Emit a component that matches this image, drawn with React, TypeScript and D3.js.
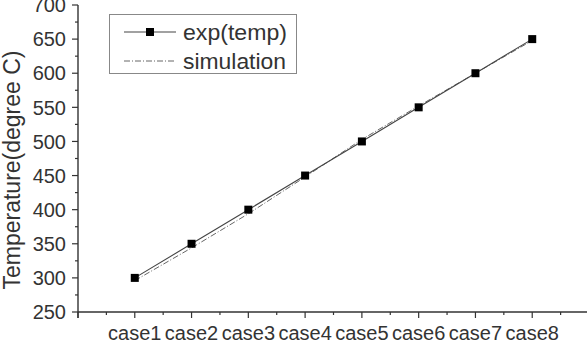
import React from 'react';
import * as d3 from 'd3';

const categories = ['case1', 'case2', 'case3', 'case4', 'case5', 'case6', 'case7', 'case8'];
const expValues = [300, 350, 400, 450, 500, 550, 600, 650];
const simValues = [296, 344, 394, 448, 503, 552, 600, 648];
const yTicks = [250, 300, 350, 400, 450, 500, 550, 600, 650, 700];
const seriesNames = ['exp(temp)', 'simulation'];

const W = 587;
const H = 345;
const FONT = '"Liberation Sans", Arial, Helvetica, sans-serif';
const TXT = '#333';
const AX = '#333';

export default function App() {
  const x = d3.scaleLinear().domain([0, 9]).range([78, 589]);
  const y = d3.scaleLinear().domain([250, 700]).range([312, 5]);
  const xi = (i: number) => x(i + 1);

  const lineExp = d3
    .line<number>()
    .x((_, i) => xi(i))
    .y((d) => y(d));
  const lineSim = d3
    .line<number>()
    .x((_, i) => xi(i))
    .y((d) => y(d));

  const yMinor = d3.range(250, 701, 25).filter((v) => v % 50 !== 0);
  const xMajor = d3.range(0, 10, 1);
  const xMinor = d3.range(0.5, 9, 1);

  const x0 = x(0);
  const yBase = y(250);
  const ms = 8;

  return (
    <svg
      width={W}
      height={H}
      style={{ position: 'absolute', left: 0, top: 0, background: '#fff' }}
      fontFamily={FONT}
    >
      <rect x={0} y={0} width={W} height={H} fill="#fff" />
      {/* Y axis */}
      <line x1={x0} x2={x0} y1={y(700)} y2={yBase + 6} stroke={AX} strokeWidth={1.4} />
      {yTicks.map((t) => (
        <g key={'yt' + t}>
          <line x1={x0 - 6} x2={x0} y1={y(t)} y2={y(t)} stroke={AX} strokeWidth={1.2} />
          <text x={66} y={y(t)} dy="0.36em" textAnchor="end" fontSize={20} fill={TXT}>
            {t}
          </text>
        </g>
      ))}
      {yMinor.map((t) => (
        <line key={'ym' + t} x1={x0 - 3} x2={x0} y1={y(t)} y2={y(t)} stroke={AX} strokeWidth={1.2} />
      ))}
      {/* X axis */}
      <line x1={x0} x2={W} y1={yBase} y2={yBase} stroke={AX} strokeWidth={1.4} />
      {xMajor.map((t) => (
        <line key={'xt' + t} x1={x(t)} x2={x(t)} y1={yBase} y2={yBase + 6} stroke={AX} strokeWidth={1.2} />
      ))}
      {xMinor.map((t) => (
        <line key={'xm' + t} x1={x(t)} x2={x(t)} y1={yBase} y2={yBase + 3} stroke={AX} strokeWidth={1.2} />
      ))}
      {categories.map((c, i) => (
        <text key={c} x={xi(i)} y={340} textAnchor="middle" fontSize={20} fill={TXT}>
          {c}
        </text>
      ))}
      {/* Y title */}
      <text
        transform={`translate(20,${170}) rotate(-90)`}
        textAnchor="middle"
        fontSize={23}
        fill={TXT}
      >
        Temperature(degree C)
      </text>
      {/* Series */}
      <path d={lineSim(simValues) || ''} fill="none" stroke="#666" strokeWidth={1} strokeDasharray="6,2,1,2" />
      <path d={lineExp(expValues) || ''} fill="none" stroke="#444" strokeWidth={1.1} />
      {expValues.map((v, i) => (
        <rect key={'m' + i} x={xi(i) - ms / 2} y={y(v) - ms / 2} width={ms} height={ms} fill="#000" />
      ))}
      {/* Legend */}
      <rect x={109.5} y={14.5} width={187} height={59} fill="#fff" stroke="#888" strokeWidth={1} />
      <line x1={124} x2={176} y1={32} y2={32} stroke="#444" strokeWidth={1.1} />
      <rect x={150 - 4} y={32 - 4} width={8} height={8} fill="#000" />
      <text x={183} y={32} dy="0.36em" fontSize={22} fill={TXT} textLength={104} lengthAdjust="spacingAndGlyphs">
        {seriesNames[0]}
      </text>
      <line x1={124} x2={176} y1={61} y2={61} stroke="#666" strokeWidth={1} strokeDasharray="6,2,1,2" />
      <text x={183} y={61} dy="0.36em" fontSize={22} fill={TXT} textLength={103} lengthAdjust="spacingAndGlyphs">
        {seriesNames[1]}
      </text>
    </svg>
  );
}
